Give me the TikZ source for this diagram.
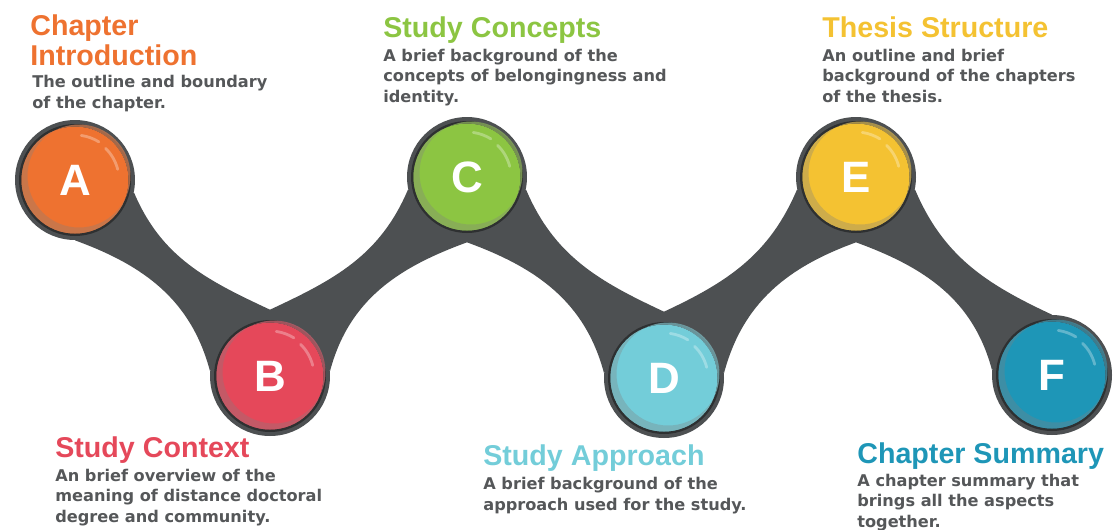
\documentclass[tikz,border=0pt]{standalone}
\usepackage{fontspec}
\setmainfont{Liberation Sans}
\newfontfamily\descfont{DejaVu Sans}
\usepackage{xcolor}
\usepackage{tikz}
\usetikzlibrary{backgrounds}

\definecolor{ring}{HTML}{4D5052}
\definecolor{ringedge}{HTML}{2E3031}
\definecolor{body}{HTML}{555759}
\definecolor{introcol}{HTML}{EE7230}
\definecolor{contextcol}{HTML}{E5485A}
\definecolor{conceptcol}{HTML}{8CC542}
\definecolor{approachcol}{HTML}{73CDD9}
\definecolor{thesiscol}{HTML}{F4C232}
\definecolor{summarycol}{HTML}{1E96B7}

\begin{document}
\begin{tikzpicture}[x=0.02cm, y=0.02cm,
    ball/.style={
      circle,
      fill=ring,
      minimum size=2.4cm,
      inner sep=0pt,
      text=white,
      font=\fontsize{25}{25}\selectfont\bfseries,
      path picture={
        \coordinate (c) at (path picture bounding box.center);
        \fill[ringedge] (c) circle (1.12cm);
        \fill[#1] (c) circle (1.07cm);
        \fill[#1!60!gray, opacity=.8, even odd rule] (c) circle (1.07cm)
          ([shift={(0.08cm,0.08cm)}]c) circle (1.03cm);
        \draw[white, opacity=.3, line width=1.6pt, line cap=round]
          ([shift={(58:0.9cm)}]c) arc[start angle=58, end angle=82, radius=0.9cm];
        \draw[white, opacity=.3, line width=1.6pt, line cap=round]
          ([shift={(14:0.88cm)}]c) arc[start angle=14, end angle=46, radius=0.88cm];
      }},
    band/.style={fill=ring},
    title/.style={
      anchor=base west,
      inner sep=0pt,
      align=left,
      font=\fontsize{16.3}{17}\selectfont\bfseries},
    desc/.style={
      anchor=base west,
      inner sep=0pt,
      align=left,
      text=body,
      font=\descfont\fontsize{9.2}{11.4}\selectfont\bfseries}
  ]
  \useasboundingbox (0,0) rectangle (1114,-529);

  \node[ball=introcol] (A) at (75,-180) {A};
  \node[ball=contextcol] (B) at (270,-376) {B};
  \node[ball=conceptcol] (C) at (467,-177) {C};
  \node[ball=approachcol] (D) at (664,-378) {D};
  \node[ball=thesiscol] (E) at (856,-177) {E};
  \node[ball=summarycol] (F) at (1052,-375) {F};

  % the wave that joins the balls
  \begin{scope}[on background layer]
    \fill[band] (A.-12) to[out=-67,in=155] ([yshift=0.12cm]B.north) -- (B.north) -- (B.175)
      to[out=105,in=-20] (A.south) -- cycle;
    \fill[band] ([yshift=0.12cm]B.north) to[out=25,in=-113] (C.192) -- (C.south) -- ([yshift=-0.1cm]C.south)
      to[out=200,in=75] (B.5) -- (B.north) -- cycle;
    \fill[band] (C.-12) to[out=-67,in=155] ([yshift=0.12cm]D.north) -- (D.north) -- (D.175)
      to[out=105,in=-20] ([yshift=-0.1cm]C.south) -- (C.south) -- cycle;
    \fill[band] ([yshift=0.12cm]D.north) to[out=25,in=-113] (E.192) -- (E.south) -- ([yshift=-0.1cm]E.south)
      to[out=200,in=75] (D.5) -- (D.north) -- cycle;
    \fill[band] (E.-12) to[out=-67,in=155] (F.north) -- (F.175)
      to[out=105,in=-20] ([yshift=-0.1cm]E.south) -- (E.south) -- cycle;
  \end{scope}

  % texts sit on the baseline of their last line
  \node[title, text=introcol] (A-title) at (30,-65) {Chapter\\Introduction};
  \node[desc] (A-text) at (32,-108) {The outline and boundary\\of the chapter.};

  \node[title, text=contextcol] (B-title) at (55,-457) {Study Context};
  \node[desc] (B-text) at (55,-522) {An brief overview of the\\meaning of distance doctoral\\degree and community.};

  \node[title, text=conceptcol] (C-title) at (383,-37) {Study Concepts};
  \node[desc] (C-text) at (383,-102) {A brief background of the\\concepts of belongingness and\\identity.};

  \node[title, text=approachcol] (D-title) at (483,-465) {Study Approach};
  \node[desc] (D-text) at (483,-510) {A brief background of the\\approach used for the study.};

  \node[title, text=thesiscol] (E-title) at (822,-37) {Thesis Structure};
  \node[desc] (E-text) at (822,-102) {An outline and brief\\background of the chapters\\of the thesis.};

  \node[title, text=summarycol] (F-title) at (857,-463) {Chapter Summary};
  \node[desc] (F-text) at (857,-527) {A chapter summary that\\brings all the aspects\\together.};
\end{tikzpicture}
\end{document}
